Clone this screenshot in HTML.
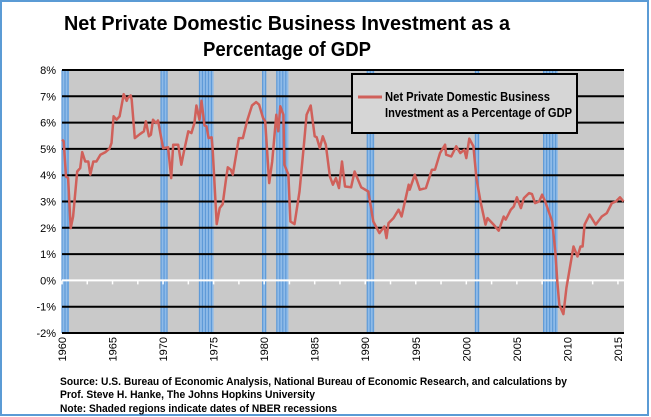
<!DOCTYPE html>
<html><head><meta charset="utf-8"><style>
body{margin:0;background:#fff;}
svg{display:block;font-family:"Liberation Sans",sans-serif;}
</style></head><body>
<svg id="chart" width="651" height="417">
<rect x="1" y="1" width="647" height="414" fill="#fff" stroke="#5b9bd5" stroke-width="2"/>
<text x="287" y="30" text-anchor="middle" font-size="20" font-weight="bold" textLength="446" lengthAdjust="spacingAndGlyphs">Net Private Domestic Business Investment as a</text>
<text x="287" y="56" text-anchor="middle" font-size="20" font-weight="bold" textLength="168" lengthAdjust="spacingAndGlyphs">Percentage of GDP</text>
<g id="plot"></g>
<g>
<rect x="352" y="74" width="225" height="59" fill="#d6d6d6" stroke="#000" stroke-width="2"/>
<line x1="358" y1="97" x2="382" y2="97" stroke="#d0605a" stroke-width="3"/>
<text x="385" y="101" font-size="12.5" font-weight="bold" textLength="165" lengthAdjust="spacingAndGlyphs">Net Private Domestic Business</text>
<text x="385" y="117" font-size="12.5" font-weight="bold" textLength="187" lengthAdjust="spacingAndGlyphs">Investment as a Percentage of GDP</text>
</g>
<g font-size="11" font-weight="bold">
<text x="60" y="385" textLength="507" lengthAdjust="spacingAndGlyphs">Source: U.S. Bureau of Economic Analysis, National Bureau of Economic Research, and calculations by</text>
<text x="60" y="398" textLength="255" lengthAdjust="spacingAndGlyphs">Prof. Steve H. Hanke, The Johns Hopkins University</text>
<text x="60" y="412" textLength="277" lengthAdjust="spacingAndGlyphs">Note: Shaded regions indicate dates of NBER recessions</text>
</g>
</svg>
<script>
const years=[1960.0,1960.17,1960.4,1960.6,1960.86,1961.1,1961.5,1961.8,1962.0,1962.3,1962.6,1962.8,1963.1,1963.4,1963.8,1964.3,1964.7,1964.9,1965.1,1965.4,1965.7,1966.1,1966.4,1966.5,1966.8,1966.9,1967.2,1967.7,1968.1,1968.3,1968.6,1968.8,1969.0,1969.3,1969.5,1970.0,1970.5,1970.8,1971.0,1971.5,1971.8,1972.1,1972.5,1972.8,1973.1,1973.3,1973.6,1973.8,1974.1,1974.3,1974.5,1974.8,1974.9,1975.3,1975.6,1975.9,1976.2,1976.4,1976.7,1976.9,1977.5,1977.9,1978.3,1978.8,1979.2,1979.5,1979.9,1980.1,1980.5,1980.8,1981.2,1981.4,1981.6,1981.9,1982.0,1982.4,1982.6,1983.0,1983.5,1983.9,1984.2,1984.6,1985.0,1985.2,1985.5,1985.8,1986.1,1986.5,1986.8,1987.1,1987.4,1987.7,1988.0,1988.6,1988.95,1989.6,1990.3,1990.8,1991.4,1991.9,1992.1,1992.3,1992.8,1993.3,1993.6,1994.3,1994.4,1994.9,1995.4,1996.0,1996.6,1996.9,1997.4,1997.9,1998.0,1998.5,1999.0,1999.4,1999.8,2000.0,2000.3,2000.7,2001.0,2001.4,2001.9,2002.1,2002.7,2003.2,2003.7,2003.9,2004.4,2004.7,2005.0,2005.4,2005.7,2006.2,2006.5,2006.8,2007.2,2007.5,2007.8,2008.5,2008.8,2009.0,2009.2,2009.6,2009.9,2010.6,2011.0,2011.3,2011.5,2011.7,2012.2,2012.8,2013.4,2013.9,2014.4,2014.8,2015.2,2015.55];
const values=[5.35,5.29,3.95,3.89,1.99,2.43,4.14,4.27,4.88,4.52,4.52,4.02,4.52,4.52,4.78,4.88,5.01,5.22,6.24,6.11,6.24,7.08,6.83,6.93,7.03,6.87,5.41,5.56,5.67,6.05,5.48,5.54,6.11,5.98,6.08,5.03,5.06,3.89,5.16,5.16,4.4,4.97,5.67,5.6,5.98,6.65,6.11,6.83,5.89,5.86,5.41,5.44,5.03,2.14,2.75,2.9,3.76,4.3,4.21,4.02,5.41,5.41,6.05,6.65,6.78,6.68,6.17,6.05,3.7,4.52,6.3,5.67,6.62,6.3,4.4,4.02,2.24,2.14,3.38,5.03,6.3,6.65,5.48,5.44,5.03,5.48,5.16,3.95,3.64,3.89,3.51,4.52,3.57,3.54,4.14,3.54,3.38,2.24,1.8,2.05,1.61,2.18,2.37,2.69,2.43,3.64,3.45,4.02,3.45,3.51,4.21,4.21,4.84,5.16,4.78,4.71,5.1,4.84,4.97,4.65,5.39,5.1,3.89,3.0,2.12,2.37,2.12,1.89,2.43,2.31,2.69,2.81,3.16,2.75,3.13,3.32,3.28,2.94,3.0,3.26,3.0,2.24,1.1,-0.04,-0.92,-1.28,-0.29,1.29,0.91,1.29,1.29,2.12,2.5,2.12,2.43,2.56,2.94,3.0,3.16,3.0];
const recStart=[1960.0,1969.8,1973.6,1979.85,1981.25,1990.2,2000.9,2007.65];
const recEnd=[1960.7,1970.4,1975.0,1980.2,1982.4,1990.9,2001.3,2009.05];
const yTicks=[8,7,6,5,4,3,2,1,0,-1,-2];
const xTickYears=[1960,1965,1970,1975,1980,1985,1990,1995,2000,2005,2010,2015];

const NS='http://www.w3.org/2000/svg';
const L=62,R=624,T=70,B=333,x0=1960,x1=2015.6,yMin=-2,yMax=8;
const X=v=>L+(v-x0)/(x1-x0)*(R-L);
const Y=v=>B-(v-yMin)/(yMax-yMin)*(B-T);
const g=document.getElementById('plot');
function mk(tag,attrs,parent){const e=document.createElementNS(NS,tag);for(const k in attrs)e.setAttribute(k,attrs[k]);(parent||g).appendChild(e);return e;}

const bg=mk('rect',{x:L,y:T,width:R-L,height:B-T,fill:'#c9c9c9'});



for(let i=0;i<recStart.length;i++){
  const xa=X(recStart[i]),xb=X(recEnd[i]);
  const r=mk('rect',{x:xa,y:T,width:Math.max(2,xb-xa),height:B-T,fill:'#8fbbe8'});
  
  
  for(let s=xa;s<=xb+0.1;s+=3){
    const ln=mk('line',{x1:s,y1:T,x2:s,y2:B,stroke:'#5e9ad8','stroke-width':1.2});
    
    
  }
}

yTicks.forEach(t=>{
  const y=Y(t);
  if(t!==0){
    const ln=mk('line',{x1:L,y1:y,x2:R,y2:y,stroke:'#000','stroke-width':2});
    
    
  }
  const tx=mk('text',{x:L-6,y:y+4,'text-anchor':'end','font-size':11});
  tx.textContent=t+'%';
  
  
});

const zero=mk('line',{x1:L,y1:Y(0),x2:R,y2:Y(0),stroke:'#fff','stroke-width':2});


for(let yr=1960;yr<=2015;yr+=2.5){
  const tk=mk('line',{x1:X(yr),y1:Y(0),x2:X(yr),y2:Y(0)+4,stroke:'#fff','stroke-width':1.5});
  
  
}

xTickYears.forEach(yr=>{
  const x=X(yr)+4;
  const tx=mk('text',{x:x,y:337,'text-anchor':'end','font-size':11,transform:'rotate(-90 '+x+' 337)'});
  tx.textContent=yr;
  
  
});

const pts=years.map((yr,i)=>X(yr).toFixed(1)+','+Y(values[i]).toFixed(1)).join(' ');
const line=mk('polyline',{points:pts,fill:'none',stroke:'#d0605a','stroke-width':2.5,'stroke-linejoin':'round'});


</script>
</body></html>
